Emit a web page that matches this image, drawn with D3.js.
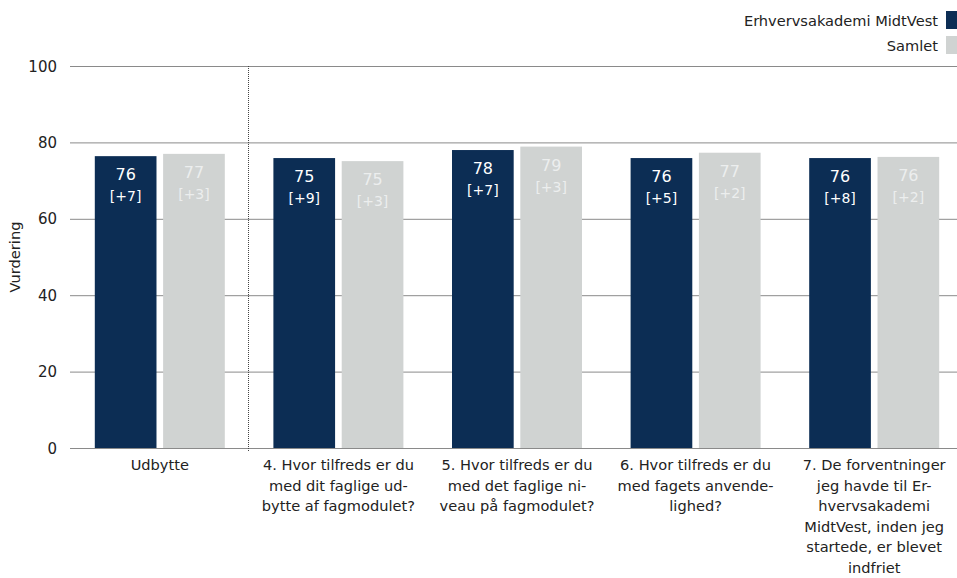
<!DOCTYPE html>
<html><head><meta charset="utf-8">
<script src="https://cdn.jsdelivr.net/npm/d3@7"></script>
<style>body{margin:0;background:#fff}svg{display:block;font-family:"DejaVu Sans",sans-serif}</style>
</head><body><svg id="c" width="957" height="578"></svg>
<script>
const categories = [
 ["Udbytte"],
 ["4. Hvor tilfreds er du","med dit faglige ud-","bytte af fagmodulet?"],
 ["5. Hvor tilfreds er du","med det faglige ni-","veau på fagmodulet?"],
 ["6. Hvor tilfreds er du","med fagets anvende-","lighed?"],
 ["7. De forventninger","jeg havde til Er-","hvervsakademi","MidtVest, inden jeg","startede, er blevet","indfriet"]
];
const seriesNames = ["Erhvervsakademi MidtVest","Samlet"];
const schoolValues = [76.4, 75.9, 78.0, 75.9, 75.9];
const schoolLabels = ["76","75","78","76","76"];
const schoolChange = ["[+7]","[+9]","[+7]","[+5]","[+8]"];
const totalValues = [77.0, 75.1, 78.9, 77.3, 76.2];
const totalLabels = ["77","75","79","77","76"];
const totalChange = ["[+3]","[+3]","[+3]","[+2]","[+2]"];
const yTicks = [0,20,40,60,80,100];

const colors = ["#0c2d54","#d0d3d2"];
const labelColors = ["#ffffff","#eceeee"];
const svg = d3.select("#c");
const y = d3.scaleLinear().domain([0,100]).range([448,66]);
const x0 = d3.scaleBand().domain(d3.range(categories.length)).range([70.5,963.5]).paddingInner(0).paddingOuter(0);
const x1 = d3.scaleBand().domain([0,1]).range([0,130]).paddingInner(0.097);
const groupOffset = (x0.bandwidth()-130)/2;

// gridlines
svg.append("g").selectAll("line").data(yTicks).join("line")
 .attr("x1",70).attr("x2",957).attr("y1",d=>y(d)+0.5).attr("y2",d=>y(d)+0.5)
 .attr("stroke","#8a8a8a").attr("stroke-width",1);
svg.append("g").selectAll("text").data(yTicks).join("text")
 .attr("x",57).attr("y",d=>y(d)+5.5).attr("text-anchor","end").attr("font-size",15).attr("fill","#222").text(d=>d);

// separator
svg.append("line").attr("x1",Math.round(x0(1))-0.5).attr("x2",Math.round(x0(1))-0.5).attr("y1",66).attr("y2",452)
 .attr("stroke","#444").attr("stroke-dasharray","1,1").attr("stroke-width",1);

const series = [
 {vals:schoolValues, labs:schoolLabels, ch:schoolChange},
 {vals:totalValues, labs:totalLabels, ch:totalChange}
];
series.forEach((s,si)=>{
 const g = svg.append("g");
 const bx = i => x0(i)+groupOffset+x1(si);
 g.selectAll("rect").data(s.vals).join("rect")
  .attr("x",(d,i)=>bx(i)).attr("width",x1.bandwidth())
  .attr("y",d=>y(d)).attr("height",d=>y(0)-y(d)).attr("fill",colors[si]);
 g.selectAll("text.v").data(s.vals).join("text").attr("class","v")
  .attr("x",(d,i)=>bx(i)+x1.bandwidth()/2).attr("y",d=>y(d)+24)
  .attr("text-anchor","middle").attr("font-size",16).attr("fill",labelColors[si]).text((d,i)=>s.labs[i]);
 g.selectAll("text.c").data(s.vals).join("text").attr("class","c")
  .attr("x",(d,i)=>bx(i)+x1.bandwidth()/2).attr("y",d=>y(d)+45)
  .attr("text-anchor","middle").attr("font-size",14).attr("fill",labelColors[si]).text((d,i)=>s.ch[i]);
});

// x labels
categories.forEach((lines,i)=>{
 const t = svg.append("text").attr("text-anchor","middle").attr("font-size",14.6).attr("fill","#222");
 lines.forEach((l,j)=>t.append("tspan").attr("x",x0(i)+x0.bandwidth()/2).attr("y",470+j*20.6).text(l));
});

// y title
svg.append("text").attr("transform","translate(20,257) rotate(-90)").attr("text-anchor","middle")
 .attr("font-size",14.6).attr("fill","#222").text("Vurdering");

// legend
seriesNames.forEach((n,i)=>{
 svg.append("rect").attr("x",946).attr("y",11+i*25).attr("width",11).attr("height",18).attr("fill",colors[i]);
 svg.append("text").attr("x",938).attr("y",25.5+i*25).attr("text-anchor","end").attr("font-size",14.6).attr("fill","#222").text(n);
});
</script></body></html>
